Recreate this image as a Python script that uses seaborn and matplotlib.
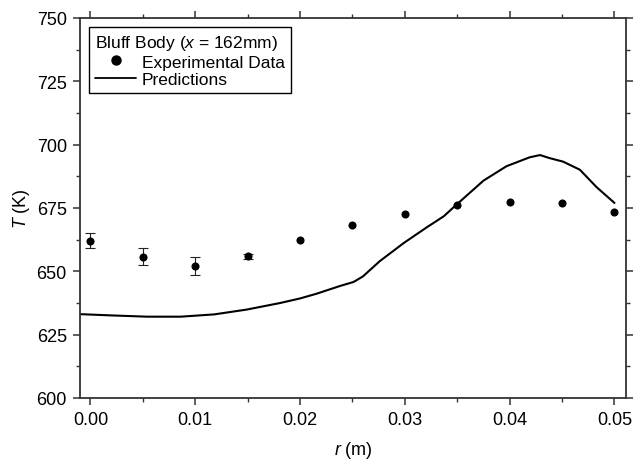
import numpy as np
import pandas as pd
import matplotlib
matplotlib.use("Agg")
import matplotlib.pyplot as plt
from matplotlib.lines import Line2D
from matplotlib.ticker import MultipleLocator, FormatStrFormatter
import seaborn as sns

# Experimental data
exp_r = [0.000, 0.005, 0.010, 0.015, 0.020, 0.025, 0.030, 0.035, 0.040, 0.045, 0.050]
exp_T = [662.1, 655.8, 652.1, 655.9, 662.4, 668.2, 672.6, 676.3, 677.5, 677.1, 673.3]
exp_err = [3.0, 3.4, 3.5, 0.9, 0.0, 0.0, 0.0, 0.0, 0.0, 0.0, 0.0]

# Predictions
pred_r = [-0.0010, 0.0020, 0.0054, 0.0086, 0.0118, 0.0149, 0.0181, 0.0200, 0.0216,
          0.0238, 0.0251, 0.0260, 0.0276, 0.0299, 0.0321, 0.0337, 0.0350, 0.0375,
          0.0397, 0.0419, 0.0429, 0.0438, 0.0451, 0.0467, 0.0483, 0.0500]
pred_T = [633.1, 632.6, 632.1, 632.1, 633.0, 634.9, 637.5, 639.3, 641.2,
          644.2, 645.8, 648.0, 654.0, 661.2, 667.4, 671.7, 676.6, 685.8,
          691.5, 695.0, 695.9, 694.7, 693.3, 690.1, 683.2, 677.0]

sns.set_style("ticks")
plt.rcParams['font.family'] = ['Liberation Sans', 'DejaVu Sans']
plt.rcParams['mathtext.fontset'] = 'custom'
plt.rcParams['mathtext.it'] = 'Liberation Sans:italic'
plt.rcParams['mathtext.rm'] = 'Liberation Sans'
plt.rcParams['text.color'] = 'black'
plt.rcParams['axes.labelcolor'] = 'black'
plt.rcParams['xtick.labelcolor'] = 'black'
plt.rcParams['ytick.labelcolor'] = 'black'

fig, ax = plt.subplots(figsize=(6.34, 4.6), dpi=100)
fig.subplots_adjust(left=80/634, right=626/634, top=1-19/460, bottom=1-399/460)

exp_df = pd.DataFrame({"r": exp_r, "T": exp_T, "err": exp_err})
pred_df = pd.DataFrame({"r": pred_r, "T": pred_T})
err_df = exp_df[exp_df["err"] > 0]

sns.lineplot(data=pred_df, x="r", y="T", ax=ax, color="black", linewidth=1.5,
             sort=False, estimator=None)
ax.errorbar(err_df["r"], err_df["T"], yerr=err_df["err"], fmt="none",
            ecolor="#222222", elinewidth=0.8, capsize=3.5, capthick=0.8)
sns.scatterplot(data=exp_df, x="r", y="T", ax=ax, color="black", s=34,
                edgecolor="black", linewidth=0, zorder=5)

ax.set_xlim(-0.001, 0.0511)
ax.set_ylim(600, 750)
ax.xaxis.set_major_locator(MultipleLocator(0.01))
ax.xaxis.set_minor_locator(MultipleLocator(0.005))
ax.yaxis.set_major_locator(MultipleLocator(25))
ax.yaxis.set_minor_locator(MultipleLocator(12.5))
ax.xaxis.set_major_formatter(FormatStrFormatter("%.2f"))

for sp in ax.spines.values():
    sp.set_visible(True)
    sp.set_color("#333333")
    sp.set_linewidth(1.3)

ax.tick_params(which="both", direction="out", top=True, right=True,
               labeltop=False, labelright=False, color="#333333", labelsize=13)
ax.tick_params(which="major", length=5, width=1.1, pad=4.5)
ax.tick_params(which="minor", length=3, width=1.0)

ax.set_xlabel("$r$ (m)", fontsize=13, labelpad=8)
ax.set_ylabel("$T$ (K)", fontsize=13, labelpad=3)

handles = [
    Line2D([], [], marker="o", color="black", linestyle="none", markersize=6.5),
    Line2D([], [], color="black", linewidth=1.3),
]
leg = ax.legend(handles, ["Experimental Data", "Predictions"],
                title="Bluff Body ($x$ = 162mm)", loc="upper left",
                fontsize=12.5, title_fontsize=12.5, frameon=True, fancybox=False,
                edgecolor="black", framealpha=1, borderpad=0.35,
                labelspacing=0.15, handlelength=2.4, handletextpad=0.3,
                borderaxespad=0.5)
leg.get_frame().set_linewidth(1.0)
leg._legend_box.align = "left"

fig.savefig("out.png", dpi=100)
